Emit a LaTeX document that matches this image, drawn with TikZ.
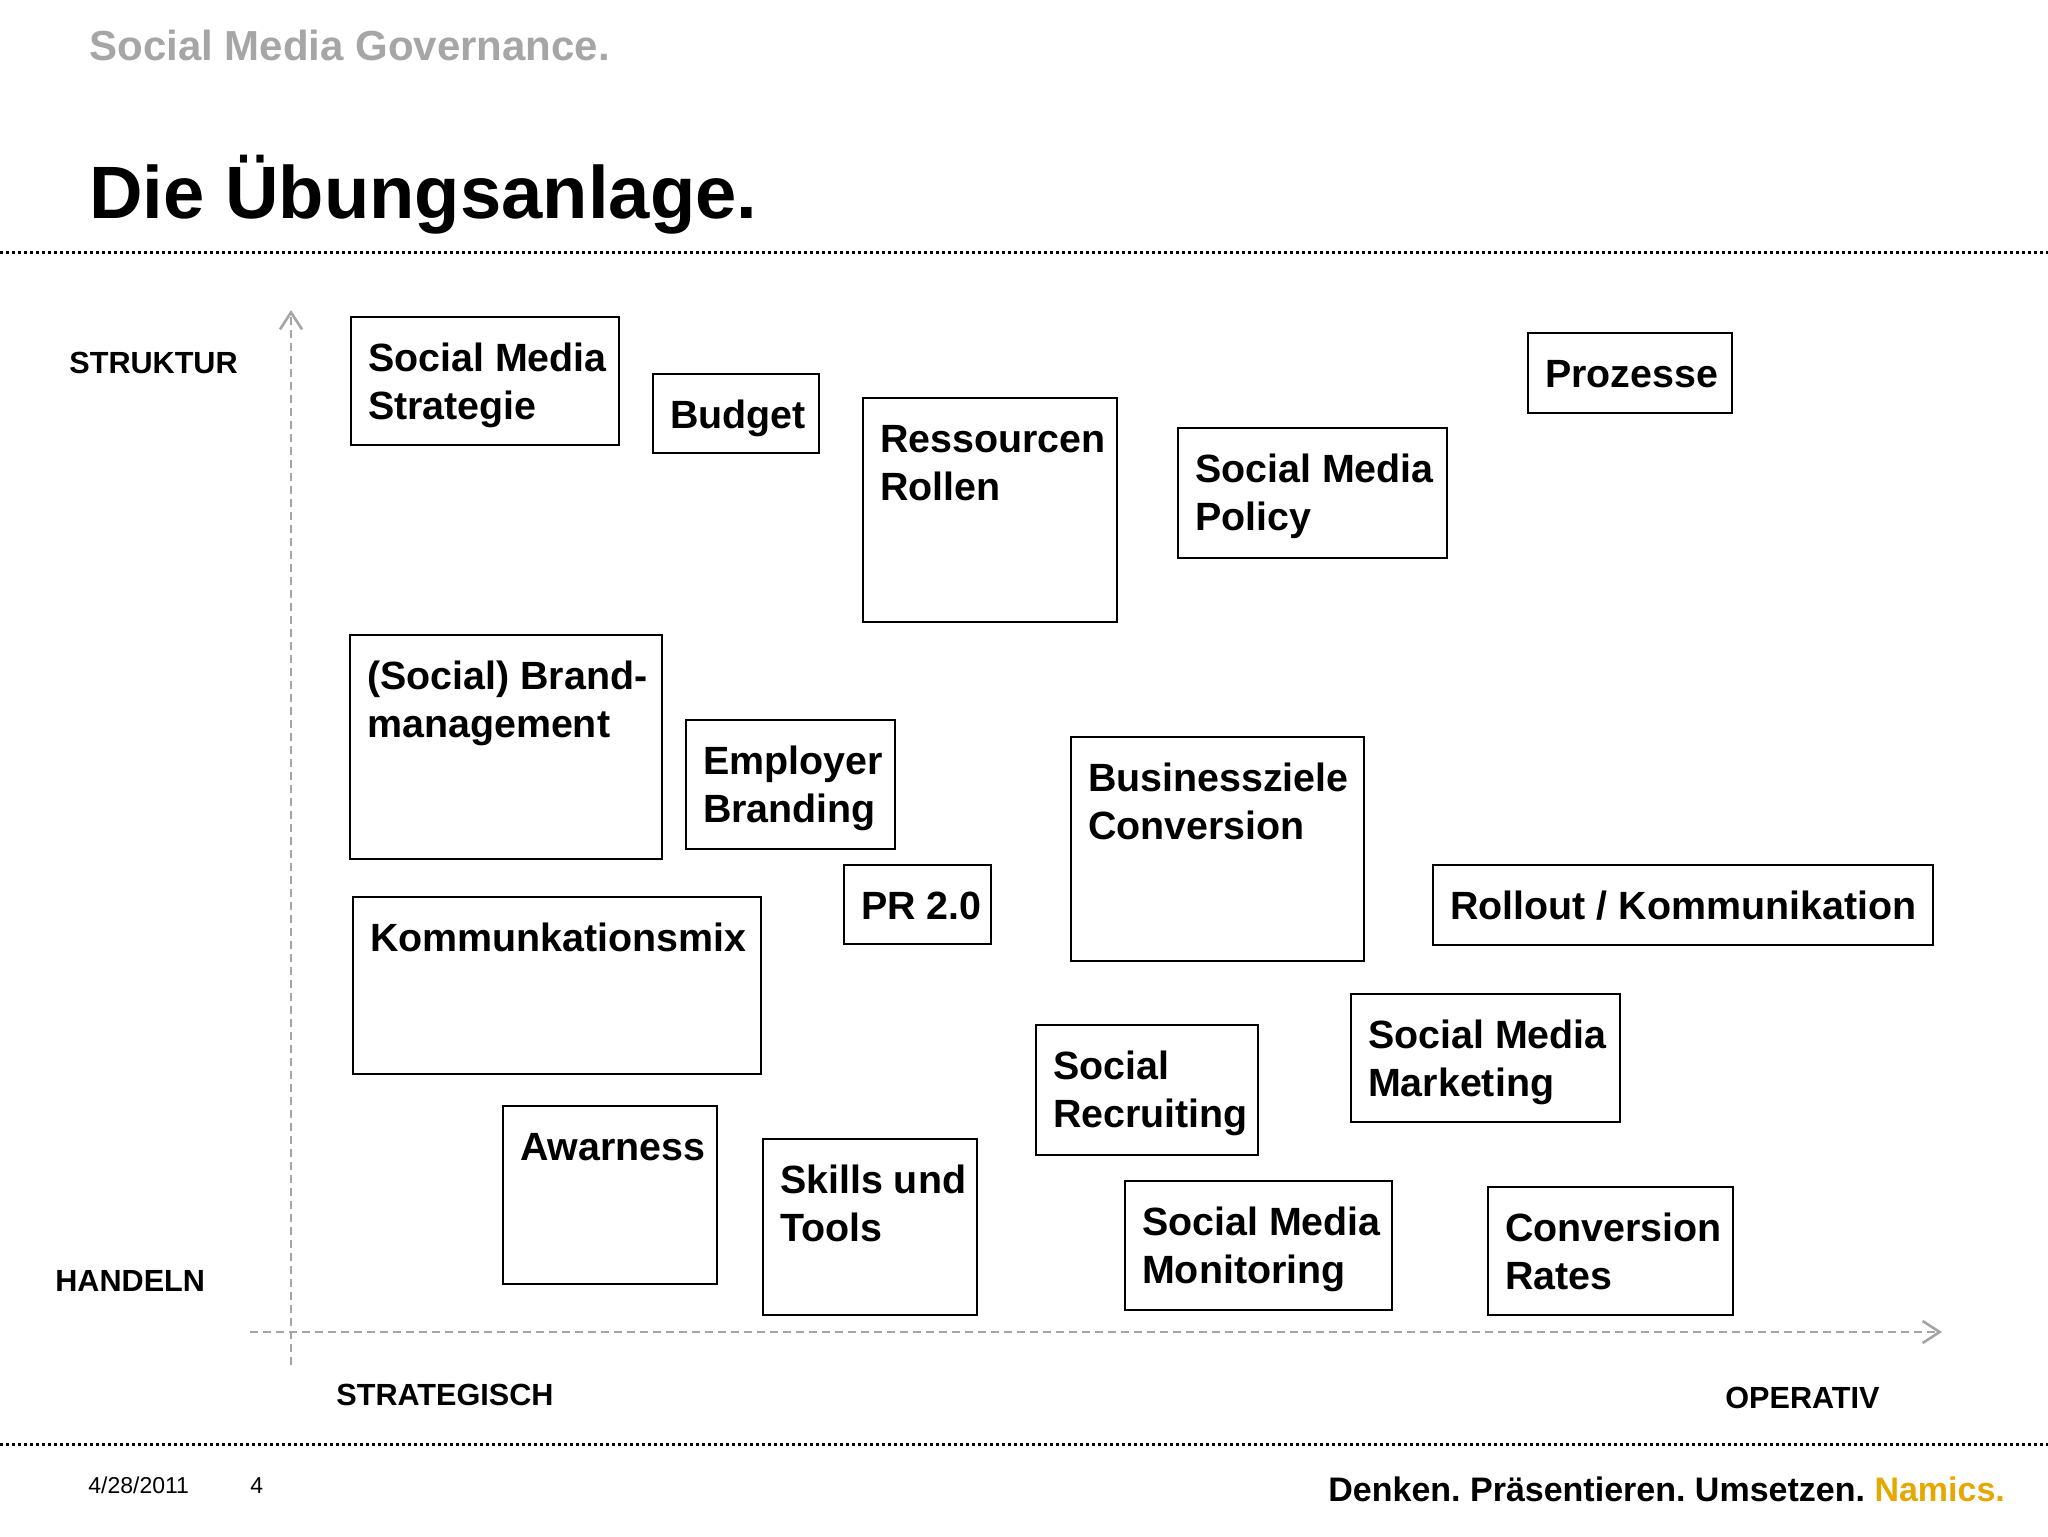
\documentclass[tikz,border=0pt]{standalone}
\usepackage{fontspec}
\setmainfont{Liberation Sans}
\usetikzlibrary{arrows.meta,calc,fit}
\definecolor{hdrgray}{RGB}{166,166,166}
\definecolor{axisgray}{RGB}{165,165,165}
\definecolor{namicsgold}{RGB}{230,168,0}
\newcommand\twoln[2]{\vtop{\hbox{#1}\hbox{#2}}}
\newcommand\bx[6]{%
  \node[boxstyle, fit={(#2,#3) (#4,#5)}] (#1) {};
  \node[lbl] (#1t) at ($(#1.north west)+(18,56)$) {#6};}
\frenchspacing
\begin{document}
\begin{tikzpicture}[x=0.5pt,y=-0.5pt,
  boxstyle/.style={draw=black, line width=1.3pt, inner sep=0pt},
  lbl/.style={font=\fontsize{19.7}{24}\selectfont\bfseries, inner sep=0pt, anchor=base west},
  axislbl/.style={font=\fontsize{15.3}{18}\selectfont\bfseries, inner sep=0pt, anchor=base west},
  sepline/.style={line width=1.5pt, dash pattern=on 1.5pt off 1.5pt},
  axisline/.style={draw=axisgray, line width=1.3pt, dash pattern=on 4pt off 2.5pt,
     -{Straight Barb[length=8.5pt,width=11pt,line width=1.3pt]}}]
\useasboundingbox[fill=white] (0,0) rectangle (2048,1536);

% header
\node[font=\fontsize{21}{25}\selectfont\bfseries, text=hdrgray, inner sep=0pt, anchor=base west] (hdr) at (89,61) {Social Media Governance.};
\node[font=\fontsize{37.1}{44}\selectfont\bfseries, inner sep=0pt, anchor=base west] (title) at (89,218) {Die Übungsanlage.};
\draw[sepline] (0,252) -- (2048,252);

% axes
\coordinate (yb) at (291,1365);
\coordinate (yt) at (291,310);
\coordinate (xl) at (250,1332);
\coordinate (xr) at (1942,1332);
\draw[axisline] (yb) -- (yt);
\draw[axisline] (xl) -- (xr);
\node[axislbl] (struktur) at (69,373) {STRUKTUR};
\node[axislbl] (handeln) at (55,1291) {HANDELN};
\node[axislbl] (strategisch) at (336,1405) {STRATEGISCH};
\node[axislbl] (operativ) at (1725,1408) {OPERATIV};

% boxes
\bx{b1}{351}{317}{619}{445}{\twoln{Social Media}{Strategie}}
\bx{b2}{653}{374}{819}{453}{Budget}
\bx{b3}{863}{398}{1117}{622}{\twoln{Ressourcen}{Rollen}}
\bx{b4}{1178}{428}{1447}{558}{\twoln{Social Media}{Policy}}
\bx{b5}{1528}{333}{1732}{413}{Prozesse}
\bx{b6}{350}{635}{662}{859}{\twoln{(Social) Brand-}{management}}
\bx{b7}{686}{720}{895}{849}{\twoln{Employer}{Branding}}
\bx{b8}{1071}{737}{1364}{961}{\twoln{Businessziele}{Conversion}}
\bx{b9}{844}{865}{991}{944}{PR 2.0}
\bx{b10}{1433}{865}{1933}{945}{Rollout / Kommunikation}
\bx{b11}{353}{897}{761}{1074}{Kommunkationsmix}
\bx{b12}{1351}{994}{1620}{1122}{\twoln{Social Media}{Marketing}}
\bx{b13}{1036}{1025}{1258}{1155}{\twoln{Social}{Recruiting}}
\bx{b14}{503}{1106}{717}{1284}{Awarness}
\bx{b15}{763}{1139}{977}{1315}{\twoln{Skills und}{Tools}}
\bx{b16}{1125}{1181}{1392}{1310}{\twoln{Social Media}{Monitoring}}
\bx{b17}{1488}{1187}{1733}{1315}{\twoln{Conversion}{Rates}}

% footer
\draw[sepline] (0,1444) -- (2048,1444);
\node[font=\fontsize{11.5}{14}\selectfont, inner sep=0pt, anchor=base west] (date) at (88,1493) {4/28/2011};
\node[font=\fontsize{11.5}{14}\selectfont, inner sep=0pt, anchor=base west] (page) at (250,1493) {4};
\node[font=\fontsize{17}{20}\selectfont\bfseries, inner sep=0pt, anchor=base west] (tag) at (1328,1501) {Denken. Präsentieren. Umsetzen. \textcolor{namicsgold}{Namics.}};
\end{tikzpicture}
\end{document}
